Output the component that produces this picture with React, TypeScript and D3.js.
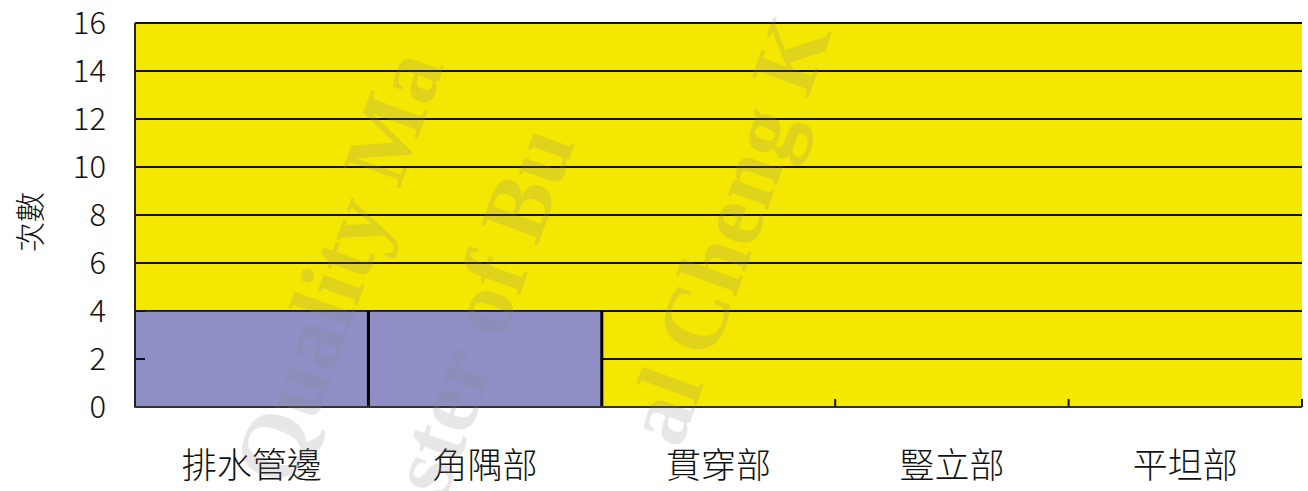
import React from "react";
import * as d3 from "d3";

const categories = ["排水管邊", "角隅部", "貫穿部", "豎立部", "平坦部"];
const counts = [4, 4, 0, 0, 0];
const yTicks = [0, 2, 4, 6, 8, 10, 12, 14, 16];
const yLabel = "次數";
const watermarks = [
  { text: "Quality Ma", x: 290, y: 490 },
  { text: "ster of Bu", x: 445, y: 500 },
  { text: "al Cheng K", x: 680, y: 450 },
];

export default function App() {
  const W = 1308, H = 491;
  const left = 135, right = 1302, top = 23, bottom = 407;
  const x = d3.scaleBand<string>().domain(categories).range([left, right]).padding(0);
  const y = d3.scaleLinear().domain([0, 16]).range([bottom, top]);
  const font = "'Noto Sans CJK TC', sans-serif";
  return (
    <svg width={W} height={H} style={{ position: "absolute", left: 0, top: 0, background: "#fff" }}>
      <rect x={left} y={top} width={right - left} height={bottom - top} fill="#F5E800" />
      {yTicks.filter(t => t > 0).map(t => (
        <line key={t} x1={left} x2={right} y1={y(t)} y2={y(t)} stroke="#111" strokeWidth={2} />
      ))}
      {categories.map((c, i) => (
        counts[i] > 0 ? (
          <rect key={c} x={x(c)!} y={y(counts[i])} width={x.bandwidth()} height={bottom - y(counts[i])}
            fill="#8F8FC6" stroke="#111" strokeWidth={1.5} />
        ) : null
      ))}
      {categories.map((c, i) => (
        i > 0 && counts[i - 1] > 0 ? (
          <line key={"sep" + c} x1={x(c)!} x2={x(c)!} y1={y(counts[i - 1])} y2={bottom} stroke="#000" strokeWidth={3} />
        ) : null
      ))}
      {yTicks.map(t => (
        <line key={"t" + t} x1={left} x2={left + 10} y1={y(t)} y2={y(t)} stroke="#111" strokeWidth={2} />
      ))}
      {categories.map((c, i) => i > 0 ? (
        <line key={"xt" + c} x1={x(c)!} x2={x(c)!} y1={bottom} y2={bottom - 8} stroke="#111" strokeWidth={2} />
      ) : null)}
      <line x1={right} x2={right} y1={bottom} y2={bottom - 8} stroke="#111" strokeWidth={2} />
      <line x1={left} x2={left} y1={top} y2={bottom} stroke="#222" strokeWidth={2} />
      <line x1={left} x2={right} y1={bottom} y2={bottom} stroke="#333" strokeWidth={2} />
      {yTicks.map(t => (
        <text key={"l" + t} x={106} y={y(t)} dy="0.36em" textAnchor="end" fontFamily={font} fontSize={31} fontWeight={300} fill="#111">{t}</text>
      ))}
      {categories.map(c => (
        <text key={"c" + c} x={x(c)! + x.bandwidth() / 2} y={465} dy="0.36em" textAnchor="middle" fontFamily={font} fontSize={35} fontWeight={300} fill="#111">{c}</text>
      ))}
      <text transform={`translate(30,222) rotate(-90)`} textAnchor="middle" dy="0.36em" fontFamily={font} fontSize={30} fontWeight={300} fill="#111">{yLabel}</text>
      {watermarks.map(w => (
        <text key={w.text} transform={`translate(${w.x},${w.y}) rotate(-70)`} fontFamily="'Liberation Serif', serif" fontWeight="bold" fontSize={92} fill="#888" fillOpacity={0.2}>{w.text}</text>
      ))}
    </svg>
  );
}
